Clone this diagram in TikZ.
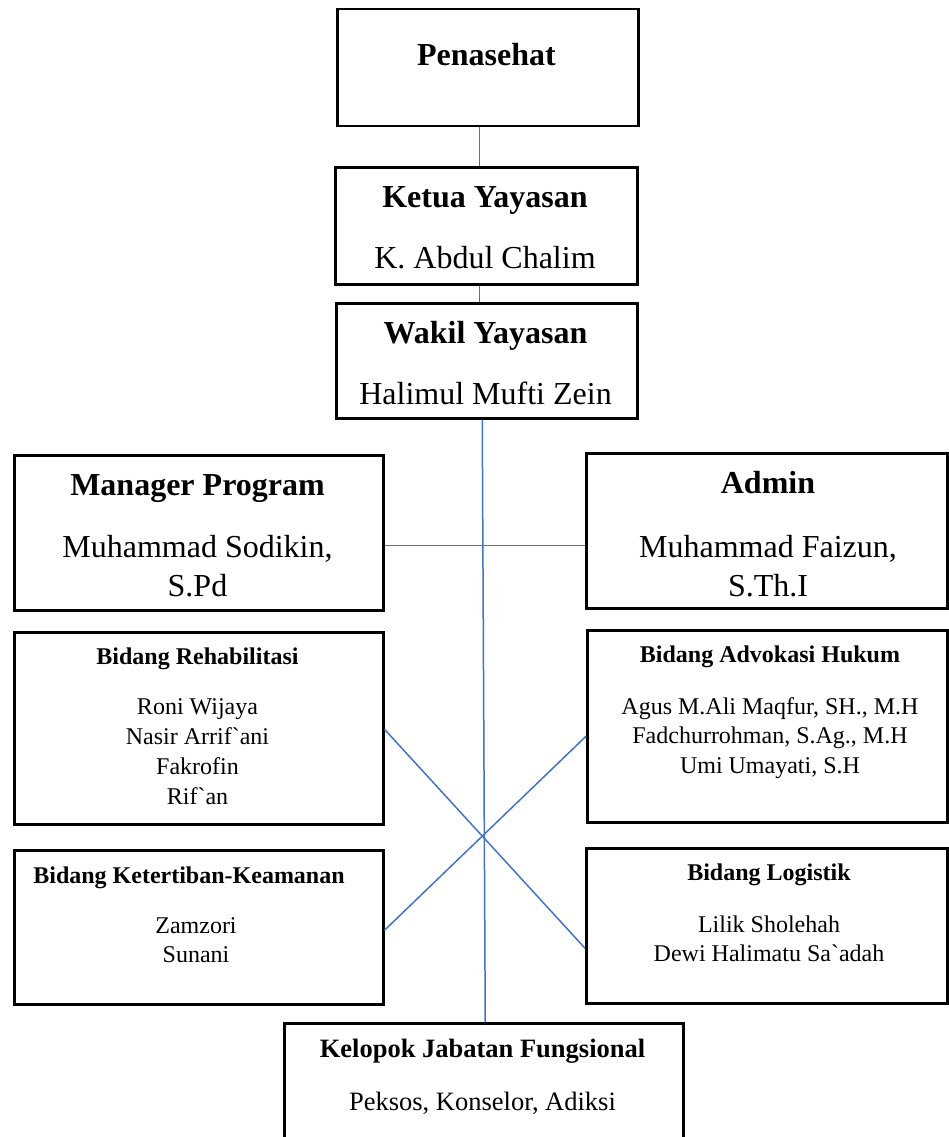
\documentclass[tikz,border=0pt]{standalone}
\usepackage{fontspec}
\setmainfont{Liberation Serif}
\usepackage{xcolor}
\usepackage{tikz}
\definecolor{garisbiru}{HTML}{4472C4}

\tikzset{
	kotak/.style={draw, line width=2.5pt, anchor=north west, inner sep=0pt},
	judulbesar/.style={anchor=base, font=\bfseries\fontsize{32}{39}\selectfont},
	namabesar/.style={anchor=base, align=center, font=\fontsize{32}{39}\selectfont},
	judul/.style={anchor=base, font=\bfseries\fontsize{24}{29.7}\selectfont},
	nama/.style={anchor=base, align=center, font=\fontsize{24}{29.7}\selectfont},
	garis/.style={draw=garisbiru, line width=1.5pt}
}

\begin{document}
\begin{tikzpicture}[x=1pt, y=-1pt]
	\useasboundingbox (0,0) rectangle (948,1137);
	% Penasehat
	\node[kotak, minimum width=301pt, minimum height=117pt] (penasehat) at (336,8) {};
	\node[judulbesar] (penasehatT) at (486.5,66) {Penasehat};
	% Ketua Yayasan
	\node[kotak, minimum width=302pt, minimum height=117pt] (ketua) at (334,166) {};
	\node[judulbesar] (ketuaT) at (485,207) {Ketua Yayasan};
	\node[namabesar] (ketuaN) at (485,268) {K. Abdul Chalim};
	% Wakil Yayasan
	\node[kotak, minimum width=301pt, minimum height=115pt] (wakil) at (335,302) {};
	\node[judulbesar] (wakilT) at (485.5,343) {Wakil Yayasan};
	\node[namabesar] (wakilN) at (485.5,404) {Halimul Mufti Zein};
	% Manager Program (baris terakhir jadi base)
	\node[kotak, minimum width=369pt, minimum height=155pt] (manager) at (13,454) {};
	\node[judulbesar] (managerT) at (197.5,495) {Manager Program};
	\node[namabesar] (managerN) at (197.5,596) {Muhammad Sodikin,\\S.Pd};
	% Admin
	\node[kotak, minimum width=361pt, minimum height=155pt] (admin) at (585,452) {};
	\node[judulbesar] (adminT) at (768,493) {Admin};
	\node[namabesar] (adminN) at (768,596) {Muhammad Faizun,\\S.Th.I};
	% Bidang Rehabilitasi
	\node[kotak, minimum width=369pt, minimum height=192pt] (rehab) at (13,631) {};
	\node[judul] (rehabT) at (197.5,664) {Bidang Rehabilitasi};
	\node[nama] (rehabN) at (197.5,804) {Roni Wijaya\\Nasir Arrif\textasciigrave ani\\Fakrofin\\Rif\textasciigrave an};
	% Bidang Advokasi Hukum
	\node[kotak, minimum width=360pt, minimum height=192pt] (advokasi) at (586,629) {};
	\node[judul] (advokasiT) at (770,662) {Bidang Advokasi Hukum};
	\node[nama] (advokasiN) at (770,773.4) {Agus M.Ali Maqfur, SH., M.H\\Fadchurrohman, S.Ag., M.H\\Umi Umayati, S.H};
	% Bidang Ketertiban-Keamanan
	\node[kotak, minimum width=369pt, minimum height=154pt] (tertib) at (13,849) {};
	\node[judul] (tertibT) at (189,883) {Bidang Ketertiban-Keamanan};
	\node[nama] (tertibN) at (196,962.7) {Zamzori\\Sunani};
	% Bidang Logistik
	\node[kotak, minimum width=361pt, minimum height=155pt] (logistik) at (585,847) {};
	\node[judul] (logistikT) at (769,880) {Bidang Logistik};
	\node[nama] (logistikN) at (769,961.7) {Lilik Sholehah\\Dewi Halimatu Sa\textasciigrave adah};
	% Kelopok Jabatan Fungsional
	\node[kotak, minimum width=399pt, minimum height=130pt] (fungsional) at (283,1022) {};
	\node[anchor=base, font=\bfseries\fontsize{26.5}{32}\selectfont] (fungsionalT) at (482.5,1057) {Kelopok Jabatan Fungsional};
	\node[anchor=base, font=\fontsize{26.5}{32}\selectfont] (fungsionalN) at (482.5,1110) {Peksos, Konselor, Adiksi};
	% garis:
	\draw[garis] ([xshift=-8.5]penasehat.south) -- ([xshift=-7]ketua.north);
	\draw[garis] ([xshift=-7]ketua.south) -- ([xshift=-7.5]wakil.north);
	\draw[garis] ([xshift=-4.5]wakil.south) -- ([xshift=1.5]fungsional.north);
	\draw[garis] ([yshift=-12.5]manager.east) -- ([yshift=-14.5]admin.west);
	\draw[garis] ([yshift=-1]rehab.east) -- ([yshift=-22.5]logistik.west);
	\draw[garis] ([yshift=-3]tertib.east) -- ([yshift=-10]advokasi.west);
\end{tikzpicture}
\end{document}
